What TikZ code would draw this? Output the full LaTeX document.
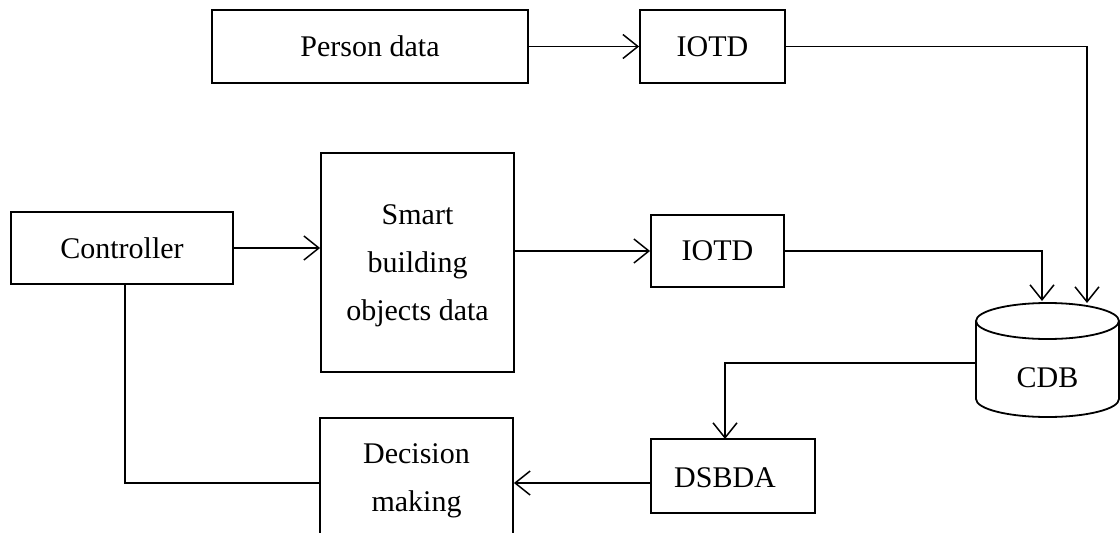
\documentclass[tikz,border=0pt]{standalone}
\usepackage{fontspec}
\setmainfont{Liberation Serif}
\usetikzlibrary{arrows.meta}
\begin{document}
\begin{tikzpicture}[x=1pt,y=-1pt,
  every node/.style={font=\fontsize{30}{48}\selectfont},
  block/.style={draw, line width=1.8pt, align=center, inner sep=0pt},
  link/.style={line width=1.8pt},
  flow/.style={link, -{Straight Barb[length=15pt,width=24pt,line width=1.5pt]}}]
\useasboundingbox (0,0) rectangle (1120,533);

% boxes
\node[block, minimum width=316, minimum height=73] (person) at (370,46.5) {Person data};
\node[block, minimum width=145, minimum height=73] (iotdA) at (712.5,46.5) {IOTD};
\node[block, minimum width=222, minimum height=72] (ctrl) at (122,248) {Controller};
\node[block, minimum width=193, minimum height=219] (smart) at (417.5,262.5) {};
\node[align=center] at (417.5,266) {Smart\\building\\objects data};
\node[block, minimum width=133, minimum height=72] (iotdB) at (717.5,251) {IOTD};
\node[block, minimum width=164, minimum height=74] (dsbda) at (733,476) {};
\node at (725,478) {DSBDA};
\node[block, minimum width=193, minimum height=124] (decide) at (416.5,480) {};
\node[align=center] at (416.5,481) {Decision\\making};

% database cylinder
\node[minimum width=143, minimum height=96, inner sep=0pt] (cdb) at (1047.5,369) {};
\draw[link, fill=white] (976,321) -- (976,399) arc[start angle=180, end angle=0, x radius=71.5, y radius=18] -- (1119,321);
\draw[link] (1047.5,321) ellipse [x radius=71.5, y radius=18];
\node at (1047.5,378) {CDB};
\coordinate (cdbInA) at (1087,303);
\coordinate (cdbInB) at (1042,301);
\coordinate (cdbOut) at (976,363);

% connectors
\draw[flow] (person.east) -- (iotdA.west);
\draw[flow] (iotdA.east) -| (cdbInA);
\draw[flow] (ctrl.east) -- (smart.west |- ctrl.east);
\draw[flow] (smart.east |- iotdB.west) -- (iotdB.west);
\draw[flow] (iotdB.east) -| (cdbInB);
\draw[flow] (cdbOut) -| (725,439);
\draw[flow] (dsbda.west |- 0,483) -- (decide.east |- 0,483);
\draw[link] (ctrl.south -| 125,0) |- (decide.west |- 0,483);
\end{tikzpicture}
\end{document}
